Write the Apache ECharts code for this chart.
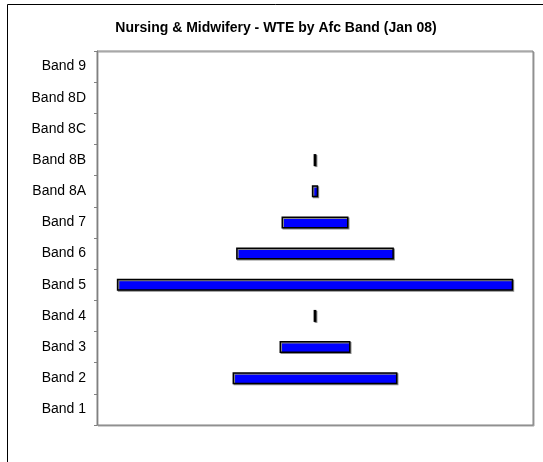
<!DOCTYPE html>
<html>
<head>
<meta charset="utf-8">
<script src="https://cdn.jsdelivr.net/npm/echarts@6/dist/echarts.min.js"></script>
<style>html,body{margin:0;padding:0;background:#fff}#c{width:543px;height:462px}</style>
</head>
<body>
<div id="c"></div>
<script>
var categories = ['Band 1','Band 2','Band 3','Band 4','Band 5','Band 6','Band 7','Band 8A','Band 8B','Band 8C','Band 8D','Band 9'];
var wte = [0, 416, 179, 7, 1000, 398, 169, 16, 7, 0, 0, 0];
var axisMax = 1100;
var titleText = 'Nursing & Midwifery - WTE by Afc Band (Jan 08)';

// spacer so each bar is centred on the axis midpoint; zero values draw nothing
var offset = wte.map(function(v){ return v > 0 ? (axisMax - v) / 2 : '-'; });
var visible = wte.map(function(v){ return v > 0 ? v : '-'; });

var chart = echarts.init(document.getElementById('c'), null, {renderer:'canvas'});
chart.setOption({
  animation:false,
  backgroundColor:'#fff',
  title:{
    text:titleText, left:271, top:16, textAlign:'center',
    textStyle:{fontFamily:'Liberation Sans, Arial, sans-serif', fontSize:14, fontWeight:'bold', color:'#000'}
  },
  graphic:[{
    type:'rect', silent:true, z:-1,
    shape:{x:7.5, y:4.5, width:700, height:700},
    style:{fill:null, stroke:'#000', lineWidth:1}
  }],
  grid:{
    left:97, top:51, right:10, bottom:37, show:true,
    borderColor:'#808080', borderWidth:1, backgroundColor:'#fff',
    shadowColor:'#a0a0a0', shadowOffsetX:1, shadowOffsetY:1, shadowBlur:0
  },
  xAxis:{type:'value', min:0, max:axisMax, show:false, splitLine:{show:false}},
  yAxis:{
    type:'category', data:categories, boundaryGap:true,
    axisLine:{show:true, lineStyle:{color:'#808080', width:1}},
    axisTick:{show:true, inside:false, length:3, lineStyle:{color:'#808080'}},
    axisLabel:{margin:11, color:'#000', fontSize:14, fontFamily:'Liberation Sans, Arial, sans-serif'},
    splitLine:{show:false}
  },
  series:[
    {type:'bar', stack:'s', data:offset, barWidth:12, silent:true,
     itemStyle:{color:'transparent', borderWidth:0}},
    {type:'bar', stack:'s', data:visible, barWidth:12,
     itemStyle:{color:'#0000ff', borderColor:'#000', borderWidth:1.5,
       shadowColor:'#888', shadowOffsetX:1, shadowOffsetY:1, shadowBlur:0}}
  ]
});
</script>
</body>
</html>
